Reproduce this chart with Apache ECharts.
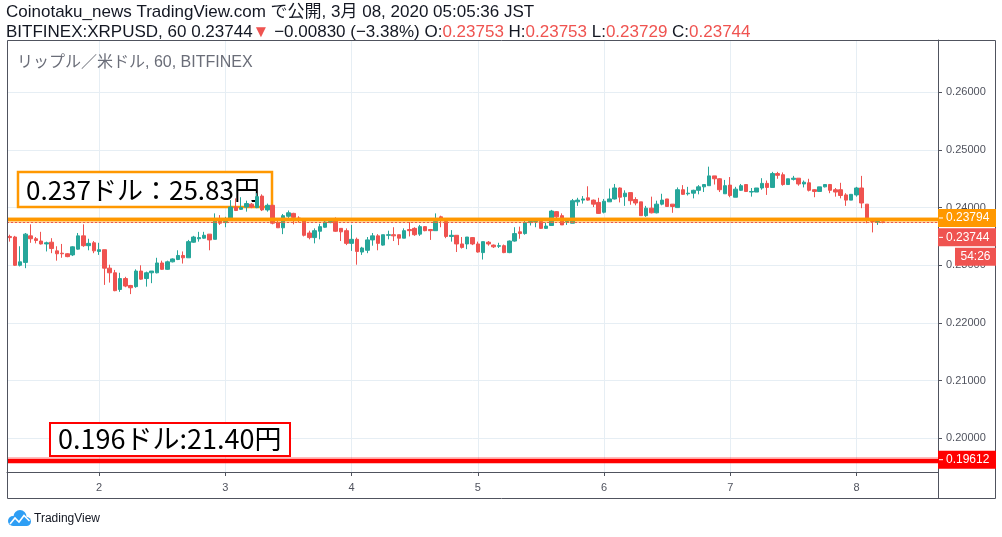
<!DOCTYPE html>
<html>
<head>
<meta charset="utf-8">
<script src="https://cdn.jsdelivr.net/npm/echarts@6/dist/echarts.min.js"></script>
<style>
  html, body { margin: 0; padding: 0; background: #ffffff; }
  #chart { width: 1002px; height: 537px; }
</style>
</head>
<body>
<div id="chart"></div>
<script>
// first visible bar is 3/1 07:00 JST, one bar per hour
const START_DAY = 1;
const START_HOUR = 7;
const EMPTY_BARS = 10;

const OPEN = [
  .2350,.2349,.2300,.2305,.2351,.2346,.2342,.2337,.2340,.2325,.2321,.2320,
  .2318,.2328,.2351,.2334,.2339,.2324,.2327,.2295,.2287,.2258,.2277,.2265,
  .2263,.2290,.2277,.2287,.2287,.2304,.2293,.2306,.2310,.2317,.2313,.2340,
  .2346,.2347,.2354,.2345,.2378,.2374,.2381,.2401,.2397,.2401,.2406,.2400,
  .2420,.2396,.2404,.2374,.2365,.2385,.2390,.2382,.2377,.2356,.2348,.2359,
  .2366,.2374,.2377,.2364,.2360,.2338,.2345,.2323,.2326,.2344,.2351,.2335,
  .2352,.2353,.2353,.2347,.2362,.2364,.2354,.2367,.2362,.2360,.2384,.2376,
  .2350,.2352,.2337,.2337,.2348,.2337,.2322,.2340,.2335,.2333,.2334,.2322,
  .2342,.2358,.2355,.2374,.2375,.2376,.2364,.2369,.2393,.2386,.2375,.2373,
  .2410,.2413,.2417,.2413,.2409,.2392,.2410,.2415,.2434,.2419,.2426,.2414,
  .2410,.2386,.2399,.2391,.2406,.2415,.2406,.2400,.2431,.2424,.2425,.2430,
  .2436,.2438,.2455,.2450,.2424,.2439,.2418,.2430,.2440,.2427,.2427,.2434,
  .2442,.2435,.2459,.2457,.2440,.2449,.2451,.2441,.2443,.2431,.2428,.2436,
  .2440,.2431,.2431,.2422,.2413,.2422,.2434,.2406,.2378,.2375,.23753
];
const HIGH = [
  .2353,.2351,.2333,.2356,.2371,.2349,.2358,.2341,.2347,.2333,.2337,.2321,
  .2333,.2356,.2371,.2346,.2342,.2339,.2327,.2301,.2292,.2287,.2280,.2266,
  .2293,.2300,.2289,.2290,.2313,.2308,.2308,.2312,.2326,.2324,.2344,.2351,
  .2358,.2358,.2354,.2390,.2387,.2384,.2413,.2416,.2418,.2412,.2408,.2425,
  .2423,.2407,.2405,.2377,.2389,.2395,.2391,.2385,.2378,.2360,.2364,.2372,
  .2377,.2381,.2383,.2364,.2364,.2370,.2348,.2332,.2349,.2356,.2354,.2353,
  .2360,.2366,.2353,.2364,.2375,.2366,.2370,.2368,.2363,.2390,.2386,.2378,
  .2361,.2352,.2349,.2349,.2349,.2341,.2341,.2342,.2336,.2339,.2336,.2343,
  .2366,.2367,.2377,.2379,.2377,.2379,.2374,.2396,.2394,.2390,.2381,.2415,
  .2417,.2420,.2437,.2414,.2417,.2415,.2433,.2441,.2435,.2430,.2426,.2418,
  .2410,.2403,.2419,.2412,.2424,.2415,.2406,.2435,.2439,.2436,.2431,.2439,
  .2440,.2471,.2455,.2451,.2448,.2453,.2436,.2441,.2440,.2434,.2434,.2451,
  .2447,.2462,.2462,.2461,.2450,.2455,.2451,.2447,.2450,.2432,.2436,.2440,
  .2441,.2434,.2443,.2425,.2423,.2436,.2455,.2406,.2380,.2377,.23753
];
const LOW = [
  .2341,.2299,.2298,.2295,.2339,.2338,.2336,.2324,.2321,.2308,.2313,.2314,
  .2316,.2327,.2332,.2326,.2321,.2318,.2266,.2270,.2255,.2254,.2262,.2250,
  .2261,.2275,.2263,.2269,.2286,.2292,.2292,.2305,.2309,.2303,.2313,.2339,
  .2341,.2346,.2326,.2345,.2370,.2366,.2380,.2394,.2396,.2393,.2399,.2399,
  .2394,.2393,.2371,.2365,.2354,.2382,.2371,.2374,.2350,.2345,.2338,.2345,
  .2365,.2373,.2358,.2342,.2335,.2325,.2301,.2318,.2321,.2334,.2326,.2334,
  .2345,.2342,.2335,.2347,.2350,.2351,.2351,.2359,.2344,.2360,.2366,.2347,
  .2341,.2323,.2329,.2328,.2335,.2322,.2310,.2334,.2330,.2330,.2321,.2321,
  .2341,.2346,.2353,.2369,.2366,.2363,.2363,.2369,.2381,.2370,.2370,.2373,
  .2403,.2407,.2412,.2401,.2389,.2390,.2410,.2414,.2409,.2403,.2405,.2404,
  .2386,.2384,.2390,.2390,.2404,.2402,.2391,.2400,.2422,.2421,.2416,.2423,
  .2427,.2438,.2440,.2427,.2424,.2418,.2418,.2429,.2427,.2419,.2427,.2431,
  .2422,.2435,.2450,.2438,.2440,.2447,.2438,.2435,.2428,.2418,.2428,.2435,
  .2425,.2419,.2416,.2403,.2413,.2419,.2399,.2373,.2357,.2370,.23729
];
const CLOSE = [
  .2348,.2300,.2306,.2354,.2346,.2343,.2337,.2339,.2329,.2320,.2320,.2315,
  .2332,.2351,.2334,.2338,.2325,.2327,.2295,.2287,.2256,.2277,.2264,.2261,
  .2290,.2276,.2287,.2290,.2304,.2293,.2306,.2311,.2317,.2313,.2341,.2349,
  .2348,.2352,.2344,.2379,.2373,.2376,.2401,.2395,.2400,.2407,.2401,.2419,
  .2396,.2404,.2373,.2365,.2386,.2391,.2383,.2380,.2352,.2348,.2360,.2367,
  .2375,.2376,.2359,.2358,.2338,.2345,.2324,.2330,.2344,.2351,.2338,.2353,
  .2353,.2351,.2347,.2360,.2360,.2353,.2367,.2360,.2360,.2376,.2378,.2350,
  .2352,.2337,.2331,.2349,.2337,.2323,.2341,.2337,.2332,.2334,.2322,.2342,
  .2355,.2355,.2374,.2376,.2376,.2364,.2368,.2394,.2384,.2370,.2376,.2412,
  .2413,.2415,.2413,.2406,.2390,.2411,.2415,.2434,.2418,.2425,.2412,.2408,
  .2386,.2399,.2391,.2406,.2413,.2402,.2402,.2431,.2423,.2425,.2430,.2436,
  .2440,.2455,.2450,.2431,.2438,.2421,.2432,.2438,.2428,.2428,.2434,.2442,
  .2435,.2459,.2456,.2440,.2450,.2451,.2441,.2444,.2430,.2428,.2436,.2440,
  .2430,.2427,.2421,.2413,.2423,.2434,.2408,.2381,.2376,.2376,.23744
];

const Y_MIN = 0.19416;
const Y_MAX = 0.26906;

const LEVEL_ORANGE = 0.23794;
const LAST_PRICE = 0.23744;
const LEVEL_RED = 0.19612;
const COUNTDOWN = "54:26";

const HEADER_1 = "Coinotaku_news TradingView.com で公開, 3月 08, 2020 05:05:36 JST";
const SYMBOL_TITLE = "リップル／米ドル, 60, BITFINEX";
const NOTE_ORANGE = "0.237ドル：25.83円";
const NOTE_RED = "0.196ドル:21.40円";

const UP = "#26a69a";
const DOWN = "#ef5350";
const GRID_LINE = "#e6eef4";
const AXIS = "#50535e";
const LATIN = '"Liberation Sans", "Noto Sans CJK JP", sans-serif';

const categories = [];
for (let i = 0; i < OPEN.length + EMPTY_BARS; i++) {
  const h = START_HOUR + i;
  const day = START_DAY + Math.floor(h / 24);
  categories.push(`3/${day} ${String(h % 24).padStart(2, "0")}:00`);
}
const isDayStart = i => (START_HOUR + i) % 24 === 0;

const candles = OPEN.map((o, i) => [o, CLOSE[i], LOW[i], HIGH[i]]);

const chart = echarts.init(document.getElementById("chart"), null, { renderer: "canvas" });

const option = {
  backgroundColor: "#ffffff",
  animation: false,
  grid: { left: 7, right: 64, top: 40, bottom: 65 },
  xAxis: {
    type: "category",
    data: categories,
    boundaryGap: true,
    axisLine: { show: true, lineStyle: { color: AXIS, width: 1 } },
    axisTick: { show: true, interval: isDayStart, alignWithLabel: true, length: 4, lineStyle: { color: AXIS } },
    axisLabel: {
      interval: isDayStart,
      margin: 10,
      color: AXIS,
      fontSize: 11,
      fontFamily: LATIN,
      formatter: v => v.split(" ")[0].split("/")[1]
    },
    splitLine: { show: true, interval: isDayStart, alignWithLabel: true, lineStyle: { color: GRID_LINE, width: 1 } }
  },
  yAxis: {
    type: "value",
    position: "right",
    scale: true,
    min: Y_MIN,
    max: Y_MAX,
    splitNumber: 7,
    axisLine: { show: true, lineStyle: { color: AXIS, width: 1 } },
    axisTick: { show: true, length: 4, lineStyle: { color: AXIS } },
    axisLabel: {
      showMinLabel: false,
      showMaxLabel: false,
      margin: 8,
      color: AXIS,
      fontSize: 11,
      fontFamily: LATIN,
      formatter: v => v.toFixed(5)
    },
    splitLine: { show: true, lineStyle: { color: GRID_LINE, width: 1 } }
  },
  series: [{
    type: "candlestick",
    data: candles,
    barWidth: 4,
    itemStyle: { color: UP, color0: DOWN, borderColor: UP, borderColor0: DOWN, borderWidth: 1 },
    markLine: {
      silent: true,
      symbol: "none",
      precision: 5,
      animation: false,
      label: { show: false },
      emphasis: { disabled: true },
      data: [
        { yAxis: LEVEL_ORANGE, lineStyle: { color: "rgba(255,152,0,0.45)", width: 6, type: "solid" } },
        { yAxis: LEVEL_ORANGE, lineStyle: { color: "#ff9800", width: 3, type: "solid" } },
        { yAxis: LAST_PRICE, lineStyle: { color: DOWN, width: 1, type: [2, 2] } },
        { yAxis: LEVEL_RED, lineStyle: { color: "rgba(255,0,0,0.35)", width: 6.5, type: "solid" } },
        { yAxis: LEVEL_RED, lineStyle: { color: "#ff0000", width: 4, type: "solid" } }
      ]
    }
  }]
};

chart.setOption(option);

function priceTag(id, value, bg, dy) {
  const y = chart.convertToPixel({ yAxisIndex: 0 }, value) + dy;
  return [
    { type: "rect", id: id + "-bg", z: 20, shape: { x: 938, y: y - 9, width: 58, height: 18 }, style: { fill: bg } },
    { type: "line", id: id + "-tick", z: 21, shape: { x1: 939, y1: y, x2: 943, y2: y }, style: { stroke: "#ffffff", lineWidth: 1 } },
    { type: "text", id: id + "-txt", z: 21, x: 946, y: y,
      style: { text: value.toFixed(5), fill: "#ffffff", font: "12px " + LATIN, textVerticalAlign: "middle" } }
  ];
}

const yLast = chart.convertToPixel({ yAxisIndex: 0 }, LAST_PRICE);

const graphics = [
  // header
  { type: "text", id: "h1", z: 10, x: 6, y: 12,
    style: { text: HEADER_1, fill: "#131722", font: "17px " + LATIN, textVerticalAlign: "middle" } },
  { type: "text", id: "h2", z: 10, x: 6, y: 32,
    style: {
      text: "{k|BITFINEX:XRPUSD, 60 0.23744}{r|▼}{k| −0.00830 (−3.38%) O:}{r|0.23753}{k| H:}{r|0.23753}{k| L:}{r|0.23729}{k| C:}{r|0.23744}",
      font: "17px " + LATIN,
      textVerticalAlign: "middle",
      rich: {
        k: { fill: "#131722", font: "17px " + LATIN },
        r: { fill: DOWN, font: "17px " + LATIN }
      }
    } },
  // frame
  { type: "rect", id: "frame", z: 9, shape: { x: 7.5, y: 40.5, width: 988, height: 458 },
    style: { fill: "none", stroke: AXIS, lineWidth: 1 } },
  { type: "line", id: "axisstrip", z: 9, shape: { x1: 938.5, y1: 472, x2: 938.5, y2: 499 },
    style: { stroke: AXIS, lineWidth: 1 } },
  // symbol title
  { type: "text", id: "title", z: 10, x: 17, y: 63,
    style: { text: SYMBOL_TITLE, fill: "#6a6d78", font: "16px " + LATIN, textVerticalAlign: "middle" } },
  // drawn notes
  { type: "rect", id: "note1", z: 1, shape: { x: 18, y: 172, width: 254, height: 35 },
    style: { fill: "#ffffff", stroke: "#ff9800", lineWidth: 2.5 } },
  { type: "text", id: "note1t", z: 1, x: 26, y: 190,
    style: { text: NOTE_ORANGE, fill: "#000000", font: '26px "Noto Sans CJK JP", sans-serif', textVerticalAlign: "middle" } },
  { type: "rect", id: "note2", z: 1, shape: { x: 50, y: 423, width: 240, height: 33 },
    style: { fill: "#ffffff", stroke: "#ff0000", lineWidth: 2 } },
  { type: "text", id: "note2t", z: 1, x: 58, y: 439,
    style: { text: NOTE_RED, fill: "#000000", font: '27px "Noto Sans CJK JP", sans-serif', textVerticalAlign: "middle" } },
  // price tags
  ...priceTag("tagO", LEVEL_ORANGE, "#ff9800", -1.5),
  ...priceTag("tagL", LAST_PRICE, DOWN, 15),
  ...priceTag("tagR", LEVEL_RED, "#ff0000", -1),
  { type: "rect", id: "cd-bg", z: 20, shape: { x: 955, y: yLast + 25.5, width: 41, height: 18 }, style: { fill: DOWN } },
  { type: "text", id: "cd-txt", z: 21, x: 975.5, y: yLast + 34.5,
    style: { text: COUNTDOWN, fill: "#ffffff", font: "12px " + LATIN, textAlign: "center", textVerticalAlign: "middle" } },
  // TradingView logo
  { type: "circle", id: "lg1", z: 10, shape: { cx: 13, cy: 521, r: 5 }, style: { fill: "#2e9ef4" } },
  { type: "circle", id: "lg2", z: 10, shape: { cx: 20, cy: 516.5, r: 6.5 }, style: { fill: "#2e9ef4" } },
  { type: "circle", id: "lg3", z: 10, shape: { cx: 26.5, cy: 521.5, r: 4.5 }, style: { fill: "#2e9ef4" } },
  { type: "rect", id: "lg4", z: 10, shape: { x: 13, y: 519, width: 14, height: 7 }, style: { fill: "#2e9ef4" } },
  { type: "polyline", id: "lg5", z: 11, shape: { points: [[10, 524], [15, 518], [19, 522], [24, 515.5], [29.5, 521]] },
    style: { stroke: "#ffffff", lineWidth: 1.6, fill: "none" } },
  { type: "text", id: "lgt", z: 10, x: 34, y: 519,
    style: { text: "TradingView", fill: "#131722", font: "12px " + LATIN, textVerticalAlign: "middle" } }
];

chart.setOption({ graphic: graphics });
window.addEventListener("resize", () => chart.resize());
</script>
</body>
</html>
